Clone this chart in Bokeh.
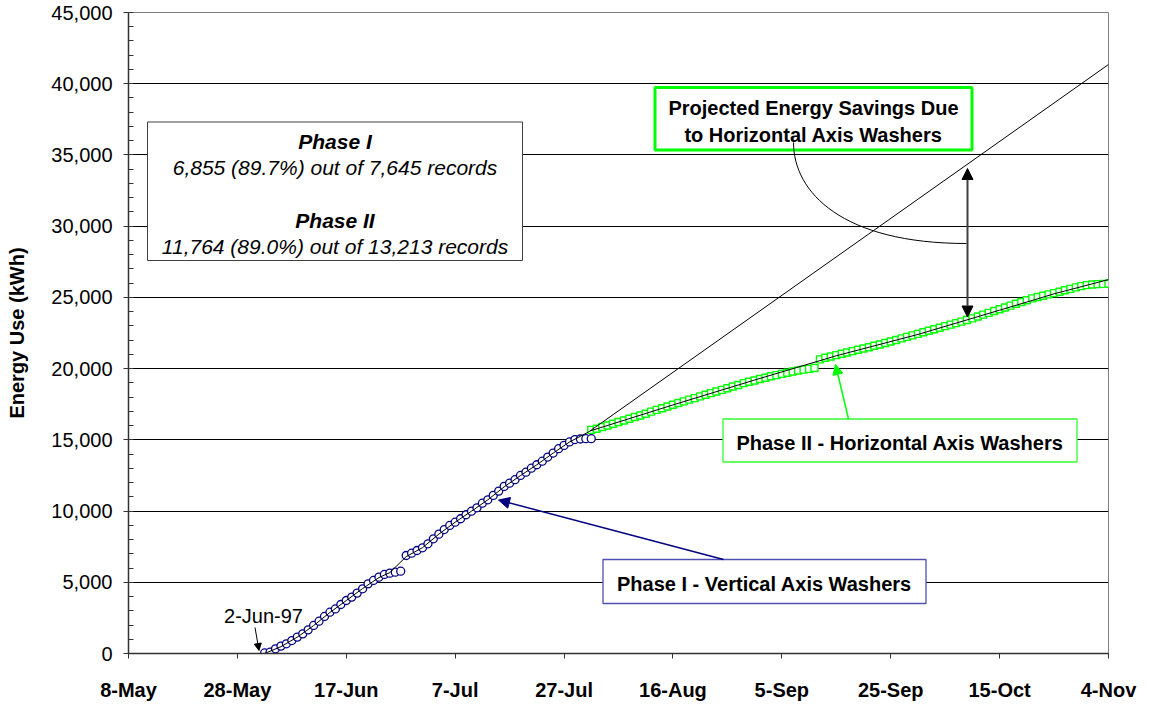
import pandas as pd
from bokeh.plotting import figure
from bokeh.models import Range1d, FixedTicker, NumeralTickFormatter, Arrow, NormalHead
from bokeh.core.properties import value
from bokeh.embed import file_html
from bokeh.resources import INLINE

# ---------------- data ----------------
origin = "1997-05-08"
x_tick_dates = ["1997-05-08", "1997-05-28", "1997-06-17", "1997-07-07", "1997-07-27",
                "1997-08-16", "1997-09-05", "1997-09-25", "1997-10-15", "1997-11-04"]
x_tick_labels = ["8-May", "28-May", "17-Jun", "7-Jul", "27-Jul",
                 "16-Aug", "5-Sep", "25-Sep", "15-Oct", "4-Nov"]
y_ticks = [0, 5000, 10000, 15000, 20000, 25000, 30000, 35000, 40000, 45000]
y_minor_ticks = list(range(0, 45001, 1000))

# Phase I - Vertical Axis Washers: daily cumulative kWh from 2-Jun-97
phase1_start = "1997-06-02"
phase1_kwh = [40, 90, 330, 520, 680, 910, 1150, 1380, 1660, 1970,
              2270, 2600, 2900, 3130, 3440, 3720, 3960, 4240, 4540, 4890,
              5130, 5360, 5550, 5640, 5710, 5780, 6880, 7040, 7230, 7420,
              7700, 8050, 8380, 8700, 8990, 9220, 9460, 9740, 9990, 10230,
              10550, 10790, 11100, 11400, 11730, 11960, 12200, 12500, 12730, 13010,
              13250, 13500, 13790, 14070, 14380, 14610, 14850, 15020, 15060, 15080,
              15080]

# Phase II - Horizontal Axis Washers: daily cumulative kWh from 1-Aug-97
phase2_start = "1997-08-01"
phase2_kwh = [15700, 15780, 15900, 16010, 16130, 16250, 16360, 16480, 16600, 16710,
              16830, 16980, 17100, 17220, 17340, 17460, 17590, 17700, 17820, 17930,
              18050, 18160, 18280, 18390, 18510, 18620, 18740, 18850, 18980, 19080,
              19170, 19270, 19360, 19460, 19540, 19630, 19710, 19800, 19870, 19930,
              19980, 20040, 20650, 20760, 20850, 20950, 21040, 21130, 21230, 21320,
              21410, 21500, 21600, 21690, 21800, 21900, 22010, 22120, 22230, 22330,
              22440, 22550, 22660, 22760, 22870, 22980, 23090, 23190, 23300, 23410,
              23530, 23660, 23790, 23910, 24040, 24170, 24290, 24420, 24550, 24680,
              24800, 24930, 25030, 25120, 25210, 25300, 25400, 25500, 25600, 25700,
              25790, 25860, 25900, 25930, 25950, 25960]

# trend lines
phase1_fit_dates = ["1997-06-02", "1997-06-05", "1997-06-08", "1997-06-11", "1997-06-14",
                    "1997-06-17", "1997-06-20", "1997-06-23", "1997-06-25", "1997-06-28",
                    "1997-07-01", "1997-07-04", "1997-07-07", "1997-07-10", "1997-07-13",
                    "1997-07-16", "1997-07-19", "1997-07-22", "1997-07-25", "1997-07-28",
                    "1997-07-30", "1997-07-31 12:00"]
phase1_fit_kwh = [0, 480, 1150, 1960, 2880, 3720, 4560, 5330, 5680, 6800,
                  7430, 8380, 9220, 9990, 10790, 11700, 12490, 13250, 14070, 14850,
                  15250, 15550]
phase2_fit_dates = ["1997-07-31 18:00", "1997-08-16", "1997-08-31", "1997-09-15",
                    "1997-09-30", "1997-10-15", "1997-10-25", "1997-11-04"]
phase2_fit_kwh = [15620, 17450, 19200, 20900, 22400, 24100, 25250, 26250]
projection_dates = ["1997-07-31 12:00", "1997-11-04"]
projection_kwh = [15550, 41350]

# ---------------- helpers ----------------
o = pd.Timestamp(origin)
def days(d):
    return [(pd.Timestamp(v) - o) / pd.Timedelta(days=1) for v in d]

x_ticks = days(x_tick_dates)
x1 = days(pd.date_range(phase1_start, periods=len(phase1_kwh), freq="D"))
x2 = days(pd.date_range(phase2_start, periods=len(phase2_kwh), freq="D"))

# map reference pixel position to data space (annotation placement)
def ax(px):
    return (px - 128) * 180.0 / 980.0
def ay(py):
    return (653 - py) * 45000.0 / 641.0

FONT = value("Liberation Sans")

p = figure(width=1150, height=706, x_range=Range1d(0, 180), y_range=Range1d(0, 45000),
           output_backend="svg", toolbar_location=None,
           min_border_left=128, min_border_right=42, min_border_top=12, min_border_bottom=53)
p.background_fill_color = "white"
p.border_fill_color = "white"
p.outline_line_color = "#808080"
p.outline_line_width = 1

# axes
p.xaxis.ticker = FixedTicker(ticks=x_ticks)
p.xaxis.major_label_overrides = {t: l for t, l in zip(x_ticks, x_tick_labels)}
p.xaxis.major_label_text_font = "Liberation Sans"
p.xaxis.major_label_text_font_size = "20px"
p.xaxis.major_label_text_font_style = "bold"
p.xaxis.major_label_text_color = "black"
p.xaxis.major_label_standoff = 20
p.xaxis.major_tick_in = 0
p.xaxis.major_tick_out = 5
p.xaxis.minor_tick_line_color = None
p.xaxis.axis_line_color = "#333333"
p.xaxis.axis_line_width = 1.5
p.xaxis.major_tick_line_color = "#333333"

p.yaxis.ticker = FixedTicker(ticks=y_ticks, minor_ticks=y_minor_ticks)
p.yaxis.formatter = NumeralTickFormatter(format="0,0")
p.yaxis.major_label_text_font = "Liberation Sans"
p.yaxis.major_label_text_font_size = "20px"
p.yaxis.major_label_text_color = "black"
p.yaxis.major_label_standoff = 11
p.yaxis.major_tick_in = 0
p.yaxis.major_tick_out = 5
p.yaxis.minor_tick_in = 5
p.yaxis.minor_tick_out = 0
p.yaxis.minor_tick_line_color = "#333333"
p.yaxis.major_tick_line_color = "#333333"
p.yaxis.axis_line_color = "#333333"
p.yaxis.axis_line_width = 1.5
p.yaxis.axis_label = "Energy Use (kWh)"
p.yaxis.axis_label_text_font = "Liberation Sans"
p.yaxis.axis_label_text_font_size = "20px"
p.yaxis.axis_label_text_font_style = "bold"
p.yaxis.axis_label_text_color = "black"
p.yaxis.axis_label_standoff = 20

p.xgrid.visible = False
p.ygrid.ticker = FixedTicker(ticks=y_ticks)
p.ygrid.grid_line_color = "black"
p.ygrid.grid_line_width = 1

# markers
p.scatter(x1, phase1_kwh, marker="circle", size=8, line_color="#000080",
          fill_color="white", line_width=1.3)
p.scatter(x2, phase2_kwh, marker="square", size=7, line_color="#00FF00",
          fill_color="white", line_width=1.4)

# trend / projection lines
p.line(days(phase1_fit_dates), phase1_fit_kwh, line_color="black", line_width=1)
p.line(days(phase2_fit_dates), phase2_fit_kwh, line_color="black", line_width=1)
p.line(days(projection_dates), projection_kwh, line_color="black", line_width=1)

# ---------------- annotations ----------------
def box(l, t, r, b, color, width):
    p.quad(left=[ax(l)], right=[ax(r)], top=[ay(t)], bottom=[ay(b)],
           fill_color="white", line_color=color, line_width=width)

def txt(cx, cy, s, style="bold", size="20px"):
    p.text(x=[ax(cx)], y=[ay(cy)], text=[s], text_font=FONT, text_font_size=size,
           text_font_style=style, text_align="center", text_baseline="middle",
           text_color="black")

# records box
box(147, 121.5, 522, 260, "#404040", 1)
txt(334.5, 140.5, "Phase I", "bold italic", "21px")
txt(334.5, 166.5, "6,855 (89.7%) out of 7,645 records", "italic", "21px")
txt(334.5, 220, "Phase II", "bold italic", "21px")
txt(334.5, 246, "11,764 (89.0%) out of 13,213 records", "italic", "21px")

# projected savings box
box(654.5, 87, 971.5, 149.5, "#00FF00", 3)
txt(813, 107.5, "Projected Energy Savings Due")
txt(813, 134.5, "to Horizontal Axis Washers")
p.bezier(x0=[ax(793)], y0=[ay(142)], x1=[ax(966)], y1=[ay(243)],
         cx0=[ax(793)], cy0=[ay(192)], cx1=[ax(842)], cy1=[ay(243)],
         line_color="black", line_width=1)
p.add_layout(Arrow(start=NormalHead(size=11, fill_color="black", line_color="black"),
                   end=NormalHead(size=11, fill_color="black", line_color="black"),
                   x_start=ax(967), y_start=ay(316.5), x_end=ax(967), y_end=ay(168),
                   line_color="#404040", line_width=2))

# phase I label
box(602.5, 559, 925.5, 603, "#5050B0", 1.3)
txt(764, 583, "Phase I - Vertical Axis Washers")
p.add_layout(Arrow(end=NormalHead(size=11, fill_color="#000080", line_color="#000080"),
                   x_start=ax(723), y_start=ay(559), x_end=ax(498), y_end=ay(499.5),
                   line_color="#000080", line_width=1.5))

# phase II label
box(722.5, 418.5, 1076.5, 461.5, "#33FF33", 1.3)
txt(899.5, 442, "Phase II - Horizontal Axis Washers")
p.add_layout(Arrow(end=NormalHead(size=10, fill_color="#00FF00", line_color="#00FF00"),
                   x_start=ax(848), y_start=ay(418.5), x_end=ax(835), y_end=ay(364),
                   line_color="#00FF00", line_width=1.5))

# start-date marker
txt(263, 615.5, "2-Jun-97", "normal")
p.add_layout(Arrow(end=NormalHead(size=7, fill_color="black", line_color="black"),
                   x_start=ax(254.5), y_start=ay(627), x_end=ax(258.5), y_end=ay(650),
                   line_color="black", line_width=1))

open("out.html", "w").write(file_html(p, INLINE))
